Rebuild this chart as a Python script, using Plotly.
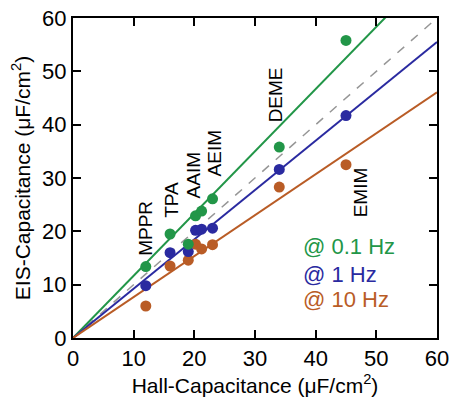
import plotly.graph_objects as go

# Data
hall_cap = [12, 16, 19, 20.2, 21.2, 23, 34, 45]
eis_01hz = [13.4, 19.5, 17.6, 22.9, 23.8, 26.1, 35.8, 55.8]
eis_1hz = [9.8, 16.0, 16.2, 20.2, 20.4, 20.6, 31.6, 41.7]
eis_10hz = [6.0, 13.5, 14.6, 17.6, 16.7, 17.5, 28.3, 32.5]

# Fit slopes (lines through origin)
slope_01hz = 1.167
slope_1hz = 0.925
slope_10hz = 0.768
fit_x = [0, 60]

ion_names = ["MPPR", "TPA", "AAIM", "AEIM", "DEME", "EMIM"]
ion_label_x = [11.9, 16.3, 19.8, 23.4, 33.3, 47.3]
ion_label_y = [20.5, 25.9, 30.5, 34.6, 45.5, 27.3]

legend_texts = ["@ 0.1 Hz", "@ 1 Hz", "@ 10 Hz"]
legend_x = 37.6
legend_y = [17.1, 11.9, 7.2]

GREEN = "rgb(34,150,72)"
BLUE = "rgb(42,42,160)"
ORANGE = "rgb(185,92,38)"
colors = [GREEN, BLUE, ORANGE]

FONT = "Liberation Sans, Arial, sans-serif"

fig = go.Figure()

# y = x reference (dashed)
fig.add_trace(go.Scatter(x=fit_x, y=fit_x, mode="lines",
                         line=dict(color="rgb(150,150,150)", width=1.5, dash="dash"),
                         showlegend=False, hoverinfo="skip"))

for slope, c in zip([slope_01hz, slope_1hz, slope_10hz], colors):
    fig.add_trace(go.Scatter(x=fit_x, y=[slope * v for v in fit_x], mode="lines",
                             line=dict(color=c, width=2), showlegend=False,
                             hoverinfo="skip"))

for ys, c, name in zip([eis_10hz, eis_1hz, eis_01hz], [ORANGE, BLUE, GREEN],
                       ["10 Hz", "1 Hz", "0.1 Hz"]):
    fig.add_trace(go.Scatter(x=hall_cap, y=ys, mode="markers", name=name,
                             marker=dict(color=c, size=11),
                             showlegend=False))

annotations = []
for name, lx, ly in zip(ion_names, ion_label_x, ion_label_y):
    annotations.append(dict(x=lx, y=ly, xref="x", yref="y", text=name,
                            textangle=-90, showarrow=False,
                            xanchor="center", yanchor="middle",
                            font=dict(family=FONT, size=19, color="black")))

for txt, c, ly in zip(legend_texts, colors, legend_y):
    annotations.append(dict(x=legend_x, y=ly, xref="x", yref="y", text=txt,
                            showarrow=False, xanchor="left", yanchor="middle",
                            font=dict(family=FONT, size=22, color=c)))

fig.update_layout(
    width=451, height=398,
    margin=dict(l=73, r=14, t=18, b=60, autoexpand=False),
    paper_bgcolor="white", plot_bgcolor="white",
    font=dict(family=FONT, size=20, color="black"),
    annotations=annotations,
    xaxis=dict(range=[0, 60], tickvals=[0, 10, 20, 30, 40, 50, 60],
               ticks="inside", ticklen=8, tickwidth=1.5, tickcolor="black",
               showline=True, linecolor="black", linewidth=2, mirror="ticks",
               showgrid=False, zeroline=False, automargin=False,
               tickfont=dict(size=22, family=FONT),
               title=dict(text="Hall-Capacitance (\u03bcF/cm<sup>2</sup>)",
                          font=dict(size=21, family=FONT), standoff=8)),
    yaxis=dict(range=[0, 60], tickvals=[0, 10, 20, 30, 40, 50, 60],
               ticks="inside", ticklen=8, tickwidth=1.5, tickcolor="black",
               showline=True, linecolor="black", linewidth=2, mirror="ticks",
               showgrid=False, zeroline=False, automargin=False,
               tickfont=dict(size=22, family=FONT),
               title=dict(text="EIS-Capacitance (\u03bcF/cm<sup>2</sup>)",
                          font=dict(size=21, family=FONT), standoff=6)),
)

fig.write_html("out.html")
